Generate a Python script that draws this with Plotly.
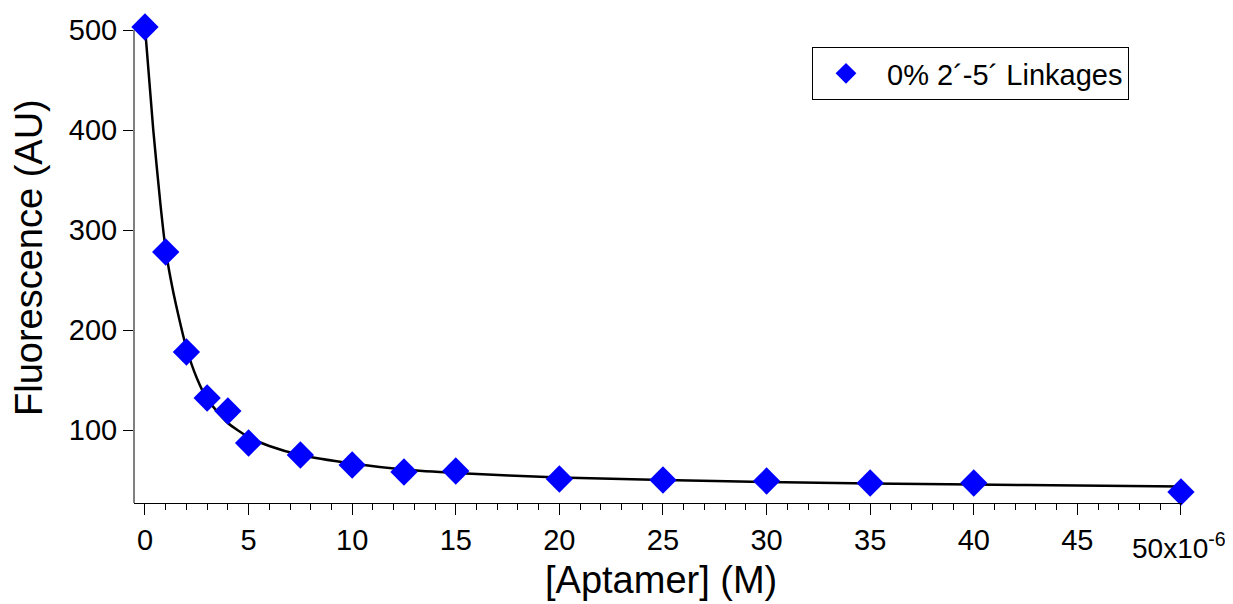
import plotly.graph_objects as go

# Data (concentration in M, fluorescence in AU)
conc_M = [0, 1e-6, 2e-6, 3e-6, 4e-6, 5e-6, 7.5e-6, 10e-6, 12.5e-6, 15e-6,
          20e-6, 25e-6, 30e-6, 35e-6, 40e-6, 50e-6]
fluor = [503, 278, 178, 132, 119, 87, 75, 65, 58, 59, 51, 50, 49, 47, 47, 38]

# Fit curve
fit_x_M = [0, 0.4e-6, 0.75e-6, 1e-6, 1.25e-6, 1.5e-6, 2e-6, 2.5e-6, 3e-6, 4e-6,
           5e-6, 6e-6, 7.5e-6, 10e-6, 12.5e-6, 15e-6, 20e-6, 25e-6, 30e-6,
           35e-6, 40e-6, 45e-6, 50e-6]
fit_y = [503, 400, 325, 280, 250, 225, 182, 152, 131, 107, 93, 84, 75, 66.5,
         60.5, 57, 52.5, 50, 48, 46.5, 45.5, 44.5, 43.5]

x_tickvals = [0, 5e-6, 10e-6, 15e-6, 20e-6, 25e-6, 30e-6, 35e-6, 40e-6, 45e-6, 50e-6]
x_ticktext = ["0", "5", "10", "15", "20", "25", "30", "35", "40", "45", ""]
y_tickvals = [100, 200, 300, 400, 500]

series_name = "\u00a00% 2\u00b4-5\u00b4 Linkages"
FONT = "Liberation Sans, Arial, sans-serif"

# page offset (browser body margin) compensation
OFF = 8
W, H = 1233 - OFF, 604 - OFF
PL, PR, PT, PB = 134, 1182, 26, 503  # plot area in page pixels
ml, mt = PL - OFF, PT - OFF
mr = W - (PR - OFF)
mb = H - (PB - OFF)
pw, ph = PR - PL, PB - PT


def px(xp):
    return (xp - PL) / pw


def py(yp):
    return (PB - yp) / ph


fig = go.Figure()
fig.add_trace(go.Scatter(x=fit_x_M, y=fit_y, mode="lines",
                         line=dict(color="black", width=2.5, shape="spline", smoothing=0.6),
                         showlegend=False, hoverinfo="skip"))
fig.add_trace(go.Scatter(x=conc_M, y=fluor, mode="markers", name=series_name,
                         marker=dict(symbol="diamond", size=21, color="#0000FF",
                                     line=dict(width=0)),
                         cliponaxis=False))

fig.update_layout(
    width=W, height=H,
    margin=dict(l=ml, r=mr, t=mt, b=mb, autoexpand=False),
    paper_bgcolor="white", plot_bgcolor="white",
    font=dict(family=FONT, size=29, color="black"),
    showlegend=True,
    legend=dict(x=px(812), y=py(47), xanchor="left", yanchor="top",
                bordercolor="black", borderwidth=1, bgcolor="white",
                font=dict(size=29), itemwidth=56),
    xaxis=dict(range=[-0.53e-6, 50.05e-6], showgrid=False, zeroline=False,
               showline=True, linecolor="black", linewidth=1,
               ticks="outside", ticklen=11, tickwidth=1, tickcolor="black",
               tickvals=x_tickvals, ticktext=x_ticktext, ticklabelstandoff=0,
               tickfont=dict(size=29),
               minor=dict(dtick=1e-6, tick0=0, ticks="outside", ticklen=6,
                          tickcolor="black", tickwidth=1)),
    yaxis=dict(range=[27, 504], showgrid=False, zeroline=False,
               showline=False,
               ticks="outside", ticklen=10, tickwidth=1, tickcolor="black",
               tickvals=y_tickvals, tickfont=dict(size=29)),
    shapes=[
        dict(type="line", xref="paper", yref="y", x0=0, x1=0, y0=27, y1=500,
             line=dict(color="black", width=1)),
    ],
    annotations=[
        dict(text="50x10<sup>-6</sup>", x=50e-6, xref="x", y=py(526), yref="paper",
             xanchor="center", yanchor="top", showarrow=False, xshift=-2,
             font=dict(size=28)),
        dict(text="[Aptamer] (M)", x=px(661), xref="paper", y=py(580), yref="paper",
             xanchor="center", yanchor="middle", showarrow=False, font=dict(size=38)),
        dict(text="Fluorescence (AU)", textangle=-90, x=px(29), xref="paper",
             y=py(258), yref="paper", xanchor="center", yanchor="middle",
             showarrow=False, font=dict(size=38)),
    ],
)

fig.write_html("out.html")
